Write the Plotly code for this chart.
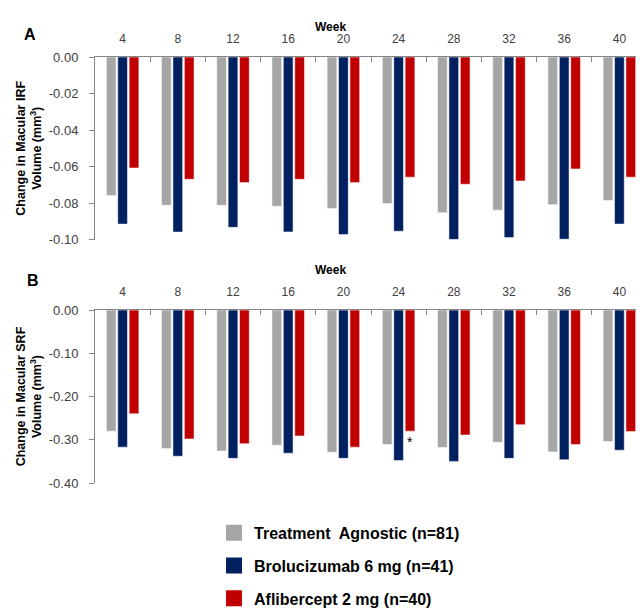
import plotly.graph_objects as go

weeks = ["4", "8", "12", "16", "20", "24", "28", "32", "36", "40"]

irf_agnostic = [-0.0759, -0.0812, -0.0812, -0.0817, -0.0830, -0.0803, -0.0853, -0.0839, -0.0809, -0.0786]
irf_brolu = [-0.0915, -0.0959, -0.0933, -0.0958, -0.0972, -0.0954, -0.1000, -0.0989, -0.0998, -0.0915]
irf_afli = [-0.0608, -0.0670, -0.0688, -0.0670, -0.0688, -0.0658, -0.0697, -0.0679, -0.0613, -0.0658]

srf_agnostic = [-0.280, -0.320, -0.326, -0.3125, -0.329, -0.311, -0.318, -0.306, -0.328, -0.304]
srf_brolu = [-0.317, -0.338, -0.343, -0.331, -0.343, -0.348, -0.350, -0.343, -0.346, -0.324]
srf_afli = [-0.240, -0.298, -0.309, -0.291, -0.317, -0.280, -0.289, -0.265, -0.311, -0.281]
srf_afli_marks = ["", "", "", "", "", "*", "", "", "", ""]

series_names = ["Treatment  Agnostic (n=81)", "Brolucizumab 6 mg (n=41)", "Aflibercept 2 mg (n=40)"]
colors = ["#A6A6A6", "#002060", "#C00000"]

irf_ticks = [0, -0.02, -0.04, -0.06, -0.08, -0.10]
irf_ticktext = ["0.00", "-0.02", "-0.04", "-0.06", "-0.08", "-0.10"]
srf_ticks = [0, -0.1, -0.2, -0.3, -0.4]
srf_ticktext = ["0.00", "-0.10", "-0.20", "-0.30", "-0.40"]

FONT = "Liberation Sans, Arial, sans-serif"

fig = go.Figure()

for vals, name, col in zip([irf_agnostic, irf_brolu, irf_afli], series_names, colors):
    fig.add_trace(go.Bar(x=weeks, y=vals, name=name, marker=dict(color=col, line=dict(width=0.5, color="white")),
                         xaxis="x", yaxis="y", showlegend=False))

for vals, name, col in zip([srf_agnostic, srf_brolu], series_names[:2], colors[:2]):
    fig.add_trace(go.Bar(x=weeks, y=vals, name=name, marker=dict(color=col, line=dict(width=0.5, color="white")),
                         xaxis="x2", yaxis="y2", showlegend=False))
fig.add_trace(go.Bar(x=weeks, y=srf_afli, name=series_names[2],
                     marker=dict(color=colors[2], line=dict(width=0.5, color="white")),
                     text=srf_afli_marks, textposition="outside", cliponaxis=False,
                     textfont=dict(size=14, color="black", family=FONT),
                     xaxis="x2", yaxis="y2", showlegend=False))

# legend entries
for i, (name, col) in enumerate(zip(series_names, colors)):
    fig.add_trace(go.Scatter(x=[None], y=[None], mode="markers", name=name,
                             marker=dict(symbol="square", size=16, color=col),
                             legendgroup=f"g{i}", xaxis="x", yaxis="y"))

axis_line = "#868686"
tickfont = dict(family=FONT, size=13, color="#404040")
xtickfont = dict(family=FONT, size=12, color="#404040")
title_font = dict(family=FONT, size=12.5, color="black")

xcommon = dict(side="top", showline=True, linecolor=axis_line, linewidth=1, ticks="inside", ticklen=5,
               tickcolor=axis_line, tickson="boundaries", tickfont=xtickfont, showgrid=False, zeroline=False,
               ticklabelstandoff=8, fixedrange=True, automargin=False, tickangle=0)
ycommon = dict(showline=True, linecolor=axis_line, linewidth=1, ticks="outside", ticklen=5, tickcolor=axis_line,
               tickfont=tickfont, showgrid=False, zeroline=False, ticklabelstandoff=8, automargin=False)

fig.update_layout(
    width=644, height=613,
    margin=dict(l=87, r=5, t=49, b=5),
    paper_bgcolor="white", plot_bgcolor="white",
    barmode="group", bargap=0.38, bargroupgap=0.15,
    font=dict(family=FONT),
    xaxis=dict(anchor="y", domain=[0, 1], **xcommon),
    yaxis=dict(anchor="x", domain=[0.6619, 1], range=[-0.1, 0], tickvals=irf_ticks, ticktext=irf_ticktext,
               title=dict(text="<b>Change in Macular IRF<br>Volume (mm<sup>3</sup>)</b>", font=title_font, standoff=4),
               **ycommon),
    xaxis2=dict(anchor="y2", domain=[0, 1], **xcommon),
    yaxis2=dict(anchor="x2", domain=[0.2111, 0.5313], range=[-0.4, 0], tickvals=srf_ticks, ticktext=srf_ticktext,
                title=dict(text="<b>Change in Macular SRF<br>Volume (mm<sup>3</sup>)</b>", font=title_font, standoff=4),
                **ycommon),
    legend=dict(x=0.2156, y=0.1503, xanchor="left", yanchor="top", orientation="v",
                font=dict(family=FONT, size=16, color="black", weight="bold"),
                tracegroupgap=9, bgcolor="rgba(0,0,0,0)"),
    showlegend=True,
    annotations=[
        dict(text="<b>Week</b>", x=0.4275, y=1.0716, xref="paper", yref="paper", showarrow=False,
             font=dict(family=FONT, size=12, color="black")),
        dict(text="<b>Week</b>", x=0.4275, y=0.6047, xref="paper", yref="paper", showarrow=False,
             font=dict(family=FONT, size=12, color="black")),
        dict(text="<b>A</b>", x=-0.132, y=1.0608, xref="paper", yref="paper", showarrow=False,
             font=dict(family=FONT, size=16, color="black")),
        dict(text="<b>B</b>", x=-0.126, y=0.5868, xref="paper", yref="paper", showarrow=False,
             font=dict(family=FONT, size=16, color="black")),
    ],
)

fig.write_html("out.html")
